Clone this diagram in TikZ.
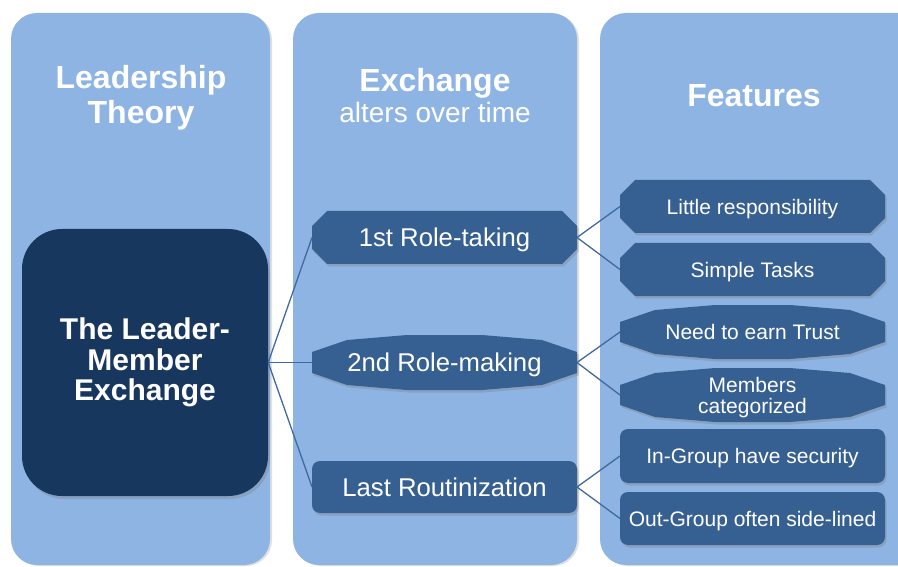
\documentclass[tikz,border=0pt]{standalone}
\usepackage{fontspec}
\setmainfont{Liberation Sans}
\usetikzlibrary{backgrounds,shadows}

\definecolor{colbg}{HTML}{8EB4E3}
\definecolor{lmedark}{HTML}{17375E}
\definecolor{stagebg}{HTML}{366092}
\definecolor{linkblue}{HTML}{4069A0}

\tikzset{
  column/.style={fill=colbg, rounded corners=26pt,
    drop shadow={opacity=.25, shadow xshift=2pt, shadow yshift=-1pt}},
  head/.style={text=white, align=center, font=\bfseries\fontsize{32}{35}\selectfont},
  lmebox/.style={fill=lmedark, rounded corners=40pt, minimum width=246pt,
    minimum height=267pt, text=white, align=center,
    font=\bfseries\fontsize{30}{30.5}\selectfont,
    drop shadow={opacity=.35, shadow xshift=2pt, shadow yshift=-3pt}},
  card/.style={text=white, align=center, minimum width=265pt, minimum height=53pt,
    inner sep=0pt, outer sep=0pt, text depth=0pt},
  stagecard/.style={card, font=\fontsize{25.7}{28}\selectfont},
  featcard/.style={card, font=\fontsize{21}{21}\selectfont},
  boxshade/.style={fill=stagebg,
    drop shadow={opacity=.35, shadow xshift=1.5pt, shadow yshift=-2.5pt}},
  roundcard/.style={boxshade, rounded corners=8pt},
  link/.style={draw=linkblue, line width=1.3pt},
}

% octagon behind a card: node name, x cut, y cut
\newcommand\cutbox[3]{%
  \path[boxshade] ([xshift=#2]#1.north west) -- ([xshift=-#2]#1.north east)
    -- ([yshift=-#3]#1.north east) -- ([yshift=#3]#1.south east)
    -- ([xshift=-#2]#1.south east) -- ([xshift=#2]#1.south west)
    -- ([yshift=#3]#1.south west) -- ([yshift=-#3]#1.north west) -- cycle;}

% wide pointed shape behind a card
\newcommand\bulgebox[1]{%
  \path[boxshade] ([yshift=-17pt]#1.north west) -- ([xshift=35pt,yshift=-5pt]#1.north west)
    -- ([xshift=95pt]#1.north west) -- ([xshift=-95pt]#1.north east)
    -- ([xshift=-35pt,yshift=-5pt]#1.north east) -- ([yshift=-17pt]#1.north east)
    -- ([yshift=17pt]#1.south east) -- ([xshift=-35pt,yshift=5pt]#1.south east)
    -- ([xshift=-95pt]#1.south east) -- ([xshift=95pt]#1.south west)
    -- ([xshift=35pt,yshift=5pt]#1.south west) -- ([yshift=17pt]#1.south west) -- cycle;}

\begin{document}
\begin{tikzpicture}[x=1pt,y=-1pt]
\useasboundingbox (0,0) rectangle (898,567);

% column titles
\node[head] (theory) at (141,98) {Leadership\\Theory};
\node[head, font=\bfseries\fontsize{32}{31}\selectfont] (exchange) at (435,96)
  {Exchange\\{\mdseries\fontsize{28}{31}\selectfont alters over time}};
\node[head] (features) at (754,95.5) {Features};

% main box
\node[lmebox] (lme) at (145,362.5) {The Leader-\\Member\\Exchange};

% stages
\node[stagecard] (s1) at (444.5,237.5) {1st Role-taking};
\node[stagecard, minimum height=55pt] (s2) at (444.5,362.5) {2nd Role-making};
\node[stagecard, roundcard, minimum height=52pt] (s3) at (444.5,487) {Last Routinization};

% features
\node[featcard] (f1) at (752.5,206.5) {Little responsibility};
\node[featcard] (f2) at (752.5,269.5) {Simple Tasks};
\node[featcard, minimum height=54pt] (f3) at (752.5,332) {Need to earn Trust};
\node[featcard, minimum height=54pt] (f4) at (752.5,395) {Members\\categorized};
\node[featcard, roundcard, minimum height=54pt] (f5) at (752.5,456) {In-Group have security};
\node[featcard, roundcard] (f6) at (752.5,518.5) {Out-Group often side-lined};

% connectors
\foreach \s in {s1,s2,s3}
  \draw[link] (lme.east) -- (\s.west);
\foreach \a/\b in {s1/f1,s1/f2,s2/f3,s2/f4,s3/f5,s3/f6}
  \draw[link] (\a.east) -- (\b.west);

\begin{scope}[on background layer]
  % columns
  \path[column] (11,13) rectangle (270,565);
  \path[column] (293,13) rectangle (577,565);
  \path[column] (600,13) rectangle (930,565);
  % card shapes
  \cutbox{s1}{15pt}{15pt}
  \bulgebox{s2}
  \cutbox{f1}{15pt}{15pt}
  \cutbox{f2}{15pt}{15pt}
  \bulgebox{f3}
  \bulgebox{f4}
\end{scope}
\end{tikzpicture}
\end{document}
